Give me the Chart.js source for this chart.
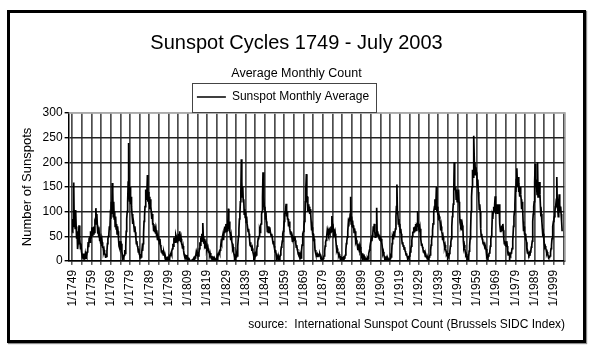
<!DOCTYPE html>
<html><head><meta charset="utf-8">
<script src="https://cdn.jsdelivr.net/npm/chart.js@4.4.1/dist/chart.umd.min.js"></script>
<style>
html,body{margin:0;padding:0;background:#fff;}
#frame{position:absolute;left:7px;top:10px;width:573px;height:327px;border:3px solid #000;box-shadow:1px 1px 1px rgba(0,0,0,.45);}
#box{position:relative;width:573px;height:327px;}
</style></head><body>
<div id="frame"><div id="box"><canvas id="c"></canvas></div></div>
<script>
const chartTitle = 'Sunspot Cycles 1749 - July 2003';
const chartSubtitle = 'Average Monthly Count';
const seriesName = 'Sunspot Monthly Average';
const yAxisTitle = 'Number of Sunspots';
const sourceNote = 'source:  International Sunspot Count (Brussels SIDC Index)';
const firstYear = 1749;
const samplesPerYear = 4;
const yTicks = [0, 50, 100, 150, 200, 250, 300];
const gridYears = [1749,1754,1759,1764,1769,1774,1779,1784,1789,1794,1799,1804,1809,1814,1819,1824,1829,1834,1839,1844,1849,1854,1859,1864,1869,1874,1879,1884,1889,1894,1899,1904,1909,1914,1919,1924,1929,1934,1939,1944,1949,1954,1959,1964,1969,1974,1979,1984,1989,1994,1999,2004];
const labelYears = [1749,1759,1769,1779,1789,1799,1809,1819,1829,1839,1849,1859,1869,1879,1889,1899,1909,1919,1929,1939,1949,1959,1969,1979,1989,1999];
const tickLabels = ['1/1749','1/1759','1/1769','1/1779','1/1789','1/1799','1/1809','1/1819','1/1829','1/1839','1/1849','1/1859','1/1869','1/1879','1/1889','1/1899','1/1909','1/1919','1/1929','1/1939','1/1949','1/1959','1/1969','1/1979','1/1989','1/1999'];
// sunspot counts, four readings per year from Jan 1749 to mid 2003
const sunspotCounts = [
// 1749-1758
58,85,70,159, 76,100,66,103, 70,45,60,24, 35,50,72,40, 45,25,35,20, 20,6,15,8, 5,15,3,12, 4,12,9,18, 22,38,28,45, 50,38,60,45,
// 1759-1768
45,68,50,60, 55,70,58,78, 75,107,80,95, 72,55,68,48, 55,40,48,35, 42,30,38,28, 28,18,22,14, 14,6,12,9, 20,35,45,50, 55,70,62,90,
// 1769-1778
85,120,95,158, 140,90,120,85, 100,70,90,65, 75,55,70,60, 45,30,38,25, 40,22,35,20, 10,4,8,6, 12,22,15,28, 60,85,100,120, 160,239,140,120,
// 1779-1788
150,115,130,110, 95,75,90,80, 80,60,70,58, 48,35,40,30, 28,18,25,14, 12,6,14,8, 15,25,20,35, 55,80,90,110, 120,145,125,140, 174,120,140,115,
// 1789-1798
130,105,125,110, 100,85,95,75, 75,60,70,58, 65,55,62,52, 52,42,50,40, 48,35,45,32, 28,18,22,15, 20,12,18,14, 10,4,7,3, 3,6,2,5,
// 1799-1808
4,9,6,10, 10,16,12,20, 25,35,30,42, 40,48,38,52, 48,38,45,40, 42,55,45,60, 48,38,45,35, 32,25,30,22, 14,8,12,6, 5,10,12,6,
// 1809-1818
2,4,1,3, 0,0,0,0, 0,2,1,3, 3,7,4,6, 8,15,10,18, 12,18,10,16, 25,38,32,48, 40,55,42,77, 50,35,45,32, 35,25,32,24,
// 1819-1828
28,20,25,18, 18,12,16,10, 8,4,10,3, 3,6,2,5, 1,3,0,2, 5,10,6,12, 12,18,15,22, 28,38,35,45, 45,55,42,58, 58,70,60,75,
// 1829-1838
60,75,62,80, 106,65,80,60, 55,42,50,40, 35,25,28,18, 12,6,9,5, 8,14,10,20, 30,50,65,85, 95,120,140,206, 160,130,150,120, 125,95,105,88,
// 1839-1848
100,78,90,75, 75,60,65,55, 45,32,38,30, 30,20,25,18, 14,8,12,7, 10,14,12,22, 30,38,45,48, 50,62,58,72, 75,95,100,130, 180,110,130,105,
// 1849-1858
110,85,100,80, 75,60,70,58, 70,58,68,60, 60,50,55,48, 48,35,40,30, 25,18,22,15, 9,5,8,4, 3,6,2,7, 12,20,28,32, 40,55,60,65,
// 1859-1868
80,95,100,105, 116,90,100,85, 85,70,80,72, 65,55,60,52, 48,40,46,42, 50,44,50,42, 36,28,32,24, 20,14,18,12, 8,5,10,6, 20,32,45,55,
// 1869-1878
60,70,80,90, 120,150,176,130, 130,100,115,100, 110,95,105,95, 78,62,68,55, 55,40,45,38, 22,15,18,12, 14,9,12,10, 15,10,14,11, 5,2,4,1,
// 1879-1888
2,5,8,10, 20,30,38,42, 48,58,52,62, 65,55,62,58, 58,70,60,91, 75,60,65,55, 58,48,55,45, 32,22,25,18, 16,11,14,10, 9,5,7,4,
// 1889-1898
4,8,5,7, 3,6,9,12, 22,35,40,48, 60,75,70,88, 80,95,130,75, 90,70,82,68, 72,58,66,60, 48,38,42,36, 30,22,28,24, 30,24,28,22,
// 1899-1908
15,10,12,8, 11,8,10,7, 3,1,4,2, 3,6,4,8, 15,22,28,35, 35,45,40,50, 55,70,60,75, 60,48,58,50, 108,55,60,52, 55,45,52,42,
// 1909-1918
50,40,45,38, 25,15,18,12, 8,4,6,3, 2,5,3,4, 1,2,0,3, 5,10,8,15, 35,48,45,60, 50,60,55,65, 90,110,155,100, 95,75,85,70,
// 1919-1928
75,58,65,55, 45,35,38,30, 32,24,28,20, 18,12,15,10, 7,4,6,5, 10,15,18,25, 30,42,50,58, 58,68,60,70, 65,75,62,72, 70,101,75,68,
// 1929-1938
70,58,65,62, 45,32,35,28, 25,18,22,16, 14,9,12,8, 7,4,6,3, 5,8,10,12, 22,32,42,50, 62,75,85,100, 110,125,105,118, 150,100,110,95,
// 1939-1948
95,82,90,85, 75,62,70,60, 55,42,48,40, 35,28,32,25, 20,14,16,12, 6,10,8,15, 20,30,38,45, 70,90,100,115, 140,200,150,145, 150,125,145,120,
// 1949-1958
140,125,145,120, 100,78,85,70, 75,62,72,65, 40,28,32,25, 18,12,14,10, 3,5,2,8, 20,30,45,60, 100,130,150,185, 170,200,254,190, 200,175,190,180,
// 1959-1968
175,150,165,140, 125,105,115,100, 65,50,55,45, 42,35,38,32, 30,25,28,24, 14,8,10,6, 10,14,16,20, 30,45,50,60, 90,85,100,110, 100,115,131,95,
// 1969-1978
110,100,115,95, 110,100,115,92, 75,60,70,62, 72,65,75,62, 45,35,40,32, 38,30,40,30, 18,12,16,14, 10,14,12,16, 18,25,30,40, 70,90,100,115,
// 1979-1988
150,140,165,188, 160,150,170,140, 145,130,150,135, 125,105,120,110, 80,60,70,55, 55,42,48,38, 22,16,18,14, 12,15,10,18, 20,28,32,40, 80,95,110,120,
// 1989-1998
160,197,150,165, 150,135,200,130, 150,140,160,135, 110,90,95,80, 65,50,55,45, 35,28,30,26, 22,15,18,14, 10,8,7,9, 10,18,25,32, 45,60,70,80,
// 1999-2003
85,90,100,110, 115,125,170,110, 105,90,120,135, 115,100,110,95, 80,60
];

const points = sunspotCounts.map((v, i) => ({ x: firstYear + i / samplesPerYear, y: v }));

const FONT = "'Liberation Sans', Arial, Helvetica, sans-serif";
Chart.defaults.font.family = FONT;
Chart.defaults.color = '#000';

const layoutFix = {
  id: 'layoutFix',
  afterLayout(chart) {
    chart.boxes.forEach(b => {
      if (b.position !== 'top') return;
      if (b === chart.legend) { b.left = 0; b.right = 546; }
      else { b.left = 0; b.right = chart.width; }
      b.width = b.right - b.left;
    });
  },
  beforeDatasetsDraw(chart) {
    const { ctx, chartArea: a } = chart;
    ctx.save();
    ctx.strokeStyle = '#aaa';
    ctx.lineWidth = 1.5;
    ctx.beginPath();
    ctx.moveTo(a.left, a.top);
    ctx.lineTo(a.right, a.top);
    ctx.lineTo(a.right, a.bottom);
    ctx.stroke();
    ctx.restore();
  },
  afterDraw(chart) {
    const lg = chart.legend;
    const hb = lg && lg.legendHitBoxes && lg.legendHitBoxes[0];
    if (!hb) return;
    const ctx = chart.ctx;
    const cy = hb.top + hb.height / 2;
    ctx.save();
    ctx.strokeStyle = '#444';
    ctx.lineWidth = 1;
    ctx.strokeRect(Math.round(hb.left - 5) + 0.5, Math.round(cy - 14.5) + 0.5, Math.round(hb.width + 12), 29);
    ctx.restore();
  }
};

new Chart(document.getElementById('c'), {
  type: 'line',
  data: {
    datasets: [{
      label: seriesName,
      data: points,
      borderColor: '#000',
      backgroundColor: '#000',
      borderWidth: 1.7,
      pointRadius: 0,
      fill: false,
      tension: 0
    }]
  },
  options: {
    responsive: true,
    maintainAspectRatio: false,
    animation: false,
    devicePixelRatio: 1,
    events: [],
    layout: { padding: { top: 0, right: 13, bottom: 0, left: 0 } },
    plugins: {
      title: { display: true, text: chartTitle, color: '#000', font: { size: 20, weight: 'normal' }, padding: { top: 18.5, bottom: 0 } },
      subtitle: { display: true, text: chartSubtitle, color: '#000', font: { size: 12.5 }, padding: { top: 10.5, bottom: 0 } },
      legend: { display: true, position: 'top', labels: { boxWidth: 29, boxHeight: 0, padding: 10, color: '#000', font: { size: 12 } } },
      tooltip: { enabled: false }
    },
    scales: {
      x: {
        type: 'linear',
        min: 1747.1,
        max: 2004.8,
        afterBuildTicks: s => { s.ticks = gridYears.map(v => ({ value: v })); },
        ticks: {
          autoSkip: false, minRotation: 90, maxRotation: 90, padding: 5, color: '#000', font: { size: 12 },
          callback: v => { const i = labelYears.indexOf(v); return i >= 0 ? tickLabels[i] : ''; }
        },
        grid: { color: '#4d4d4d', lineWidth: 1.7, tickLength: 4, tickColor: '#000', tickWidth: 1 },
        border: { color: '#000', width: 1.5 },
        title: { display: true, text: sourceNote, align: 'end', color: '#000', font: { size: 12 }, padding: { top: 6, bottom: 8 } }
      },
      y: {
        min: 0,
        max: 300,
        afterBuildTicks: s => { s.ticks = yTicks.map(v => ({ value: v })); },
        ticks: { padding: 2, color: '#000', font: { size: 12 } },
        grid: { color: c => (c.tick && c.tick.value === 300 ? '#aaa' : '#222'), lineWidth: 1.4, tickLength: 4, tickColor: '#000' },
        border: { color: '#000', width: 1.5 },
        title: { display: true, text: yAxisTitle, color: '#000', font: { size: 13 }, padding: { top: 10, bottom: 5 } }
      }
    }
  },
  plugins: [layoutFix]
});
</script>
</body></html>
